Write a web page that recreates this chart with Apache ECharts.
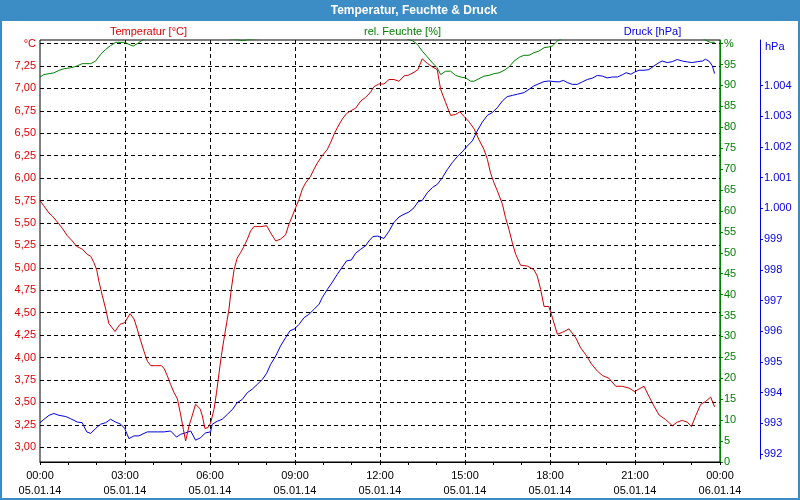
<!DOCTYPE html>
<html><head><meta charset="utf-8">
<script src="https://cdn.jsdelivr.net/npm/echarts@6/dist/echarts.min.js"></script>
<style>html,body{margin:0;padding:0;background:#fff}#c{width:800px;height:500px}</style>
</head><body><div id="c"></div>
<script>
// ---- data (hours since 05.01.14 00:00) ----
const tempTime = [0.00,0.14,0.32,0.43,0.67,0.79,0.96,1.14,1.29,1.49,1.67,1.79,1.90,2.00,2.08,2.20,2.32,2.43,2.55,2.65,2.73,2.82,2.99,3.18,3.32,3.43,3.55,3.67,3.79,3.91,4.08,4.28,4.38,4.49,4.61,4.73,4.85,4.96,5.06,5.14,5.26,5.37,5.49,5.65,5.73,5.82,5.93,6.02,6.14,6.23,6.32,6.40,6.49,6.59,6.67,6.75,6.85,6.96,7.08,7.20,7.32,7.43,7.55,7.79,8.00,8.14,8.32,8.49,8.67,8.79,8.91,9.02,9.14,9.26,9.38,9.55,9.67,9.79,9.96,10.14,10.26,10.38,10.49,10.67,10.82,10.96,11.14,11.32,11.49,11.67,11.79,11.96,12.14,12.32,12.49,12.67,12.85,13.02,13.20,13.34,13.49,13.67,13.85,14.02,14.14,14.32,14.49,14.67,14.82,14.96,15.14,15.32,15.49,15.67,15.79,15.90,16.02,16.14,16.32,16.43,16.55,16.67,16.79,16.96,17.20,17.43,17.55,17.67,17.79,17.96,18.08,18.26,18.43,18.67,18.91,19.08,19.29,19.46,19.67,19.85,20.08,20.32,20.55,20.79,20.99,21.14,21.32,21.49,21.67,21.85,22.08,22.32,22.49,22.67,22.85,22.99,23.14,23.32,23.49,23.67,23.81];
const tempValue = [5.75,5.69,5.61,5.58,5.49,5.44,5.36,5.30,5.24,5.21,5.15,5.13,5.06,4.98,4.85,4.69,4.54,4.38,4.33,4.29,4.33,4.37,4.39,4.49,4.43,4.32,4.19,4.07,3.96,3.91,3.91,3.91,3.88,3.80,3.70,3.61,3.54,3.37,3.20,3.07,3.24,3.35,3.48,3.43,3.35,3.21,3.22,3.27,3.42,3.61,3.83,4.02,4.20,4.39,4.54,4.76,4.98,5.11,5.17,5.24,5.32,5.41,5.46,5.46,5.47,5.39,5.30,5.32,5.37,5.49,5.58,5.67,5.76,5.88,5.95,6.02,6.10,6.17,6.25,6.32,6.40,6.49,6.56,6.66,6.72,6.75,6.78,6.86,6.90,6.96,7.02,7.05,7.05,7.10,7.10,7.08,7.14,7.15,7.18,7.21,7.33,7.28,7.24,7.21,6.99,6.84,6.70,6.71,6.74,6.69,6.63,6.55,6.43,6.32,6.21,6.06,5.95,5.86,5.71,5.56,5.43,5.28,5.15,5.03,5.02,4.98,4.91,4.76,4.57,4.57,4.45,4.26,4.28,4.32,4.22,4.11,4.02,3.93,3.85,3.80,3.77,3.68,3.68,3.66,3.62,3.65,3.68,3.57,3.46,3.36,3.31,3.24,3.28,3.30,3.28,3.23,3.35,3.48,3.51,3.56,3.45];

const humTime = [0.00,0.14,0.32,0.49,0.67,0.85,1.08,1.29,1.49,1.79,1.96,2.14,2.32,2.49,2.67,2.99,3.14,3.29,3.44,3.61,3.80,5.00,6.50,7.00,7.15,7.30,8.00,10.00,12.00,12.90,13.14,13.32,13.49,13.67,13.85,14.02,14.14,14.32,14.49,14.67,14.85,15.02,15.20,15.32,15.49,15.67,15.85,16.02,16.20,16.38,16.55,16.73,16.91,17.08,17.26,17.43,17.61,17.79,17.96,18.08,18.26,18.45,20.00,22.00,23.40,23.55,23.65,23.81];
const humValue = [92.0,92.6,92.8,93.0,93.6,94.0,94.2,94.6,95.2,95.2,95.8,97.4,98.6,99.5,100.3,100.3,99.8,99.4,100.0,100.8,101.4,101.6,101.3,100.9,100.7,100.9,101.4,101.7,101.6,101.2,100.7,99.8,98.2,96.8,95.4,94.2,92.6,93.4,93.4,92.4,92.0,91.8,91.0,91.0,91.6,92.2,92.4,92.8,93.0,93.6,94.4,95.8,96.7,97.2,97.2,97.8,98.2,99.0,99.2,99.4,100.6,101.3,101.7,101.6,101.2,100.6,100.3,100.3];

const pressTime = [0.00,0.14,0.32,0.49,0.67,0.91,1.08,1.32,1.49,1.65,1.79,1.96,2.14,2.32,2.49,2.67,2.85,2.99,3.14,3.32,3.49,3.67,3.79,4.14,4.38,4.61,4.82,4.96,5.14,5.32,5.49,5.67,5.84,6.02,6.08,6.26,6.43,6.61,6.79,6.96,7.14,7.32,7.49,7.67,7.85,8.00,8.14,8.32,8.49,8.67,8.82,8.99,9.14,9.32,9.49,9.67,9.85,9.96,10.14,10.32,10.49,10.67,10.82,10.99,11.14,11.32,11.49,11.61,11.75,11.91,12.14,12.32,12.49,12.67,12.85,13.02,13.20,13.34,13.49,13.67,13.85,14.02,14.20,14.38,14.55,14.73,14.90,15.08,15.26,15.43,15.61,15.79,15.96,16.14,16.32,16.49,16.67,16.85,17.08,17.26,17.43,17.61,17.79,17.96,18.14,18.32,18.47,18.61,18.79,18.96,19.14,19.32,19.49,19.67,19.85,20.02,20.20,20.38,20.55,20.69,20.85,20.99,21.14,21.32,21.49,21.67,21.85,21.96,22.14,22.32,22.49,22.67,22.85,23.02,23.20,23.38,23.49,23.63,23.73,23.81];
const pressValue = [993.02,993.13,993.26,993.32,993.26,993.22,993.15,993.04,993.02,992.72,992.67,992.83,992.97,993.02,993.13,993.04,992.97,992.83,992.50,992.59,992.59,992.67,992.72,992.72,992.72,992.75,992.55,992.64,992.69,992.75,992.45,992.53,992.69,992.72,992.97,993.07,993.13,993.29,993.45,993.67,993.78,994.00,994.11,994.27,994.43,994.63,994.92,995.19,995.52,995.79,996.01,996.08,996.22,996.44,996.55,996.71,996.88,997.09,997.36,997.60,997.85,998.09,998.29,998.32,998.54,998.67,998.78,998.94,999.08,999.10,999.02,999.26,999.54,999.72,999.81,999.88,1000.02,1000.21,1000.26,1000.51,1000.68,1000.78,1001.00,1001.27,1001.49,1001.69,1001.84,1002.03,1002.20,1002.52,1002.81,1003.03,1003.12,1003.28,1003.50,1003.64,1003.68,1003.72,1003.77,1003.88,1003.99,1004.06,1004.13,1004.15,1004.13,1004.12,1004.17,1004.10,1004.04,1004.04,1004.12,1004.20,1004.24,1004.33,1004.31,1004.25,1004.28,1004.28,1004.35,1004.42,1004.37,1004.44,1004.50,1004.50,1004.52,1004.64,1004.75,1004.80,1004.75,1004.78,1004.85,1004.80,1004.77,1004.75,1004.78,1004.80,1004.86,1004.78,1004.64,1004.39];

// ---- axis ticks / labels ----
const xTickHours = [0,3,6,9,12,15,18,21,24];
const xTimeLabels = ['00:00','03:00','06:00','09:00','12:00','15:00','18:00','21:00','00:00'];
const xDateLabels = ['05.01.14','05.01.14','05.01.14','05.01.14','05.01.14','05.01.14','05.01.14','05.01.14','06.01.14'];
const humTicks = [0,5,10,15,20,25,30,35,40,45,50,55,60,65,70,75,80,85,90,95,100];

const FONT = 'Liberation Sans';
const RED = '#dd0000', RED_LINE = '#cc0000';
const GREEN = '#008000';
const BLUE = '#0000dd';
const FRAME = '#3c8dc6';
const L = 40, R = 80;

const chart = echarts.init(document.getElementById('c'), null, {renderer: 'canvas'});
const zip = (a, b) => a.map((t, i) => [t, b[i]]);

chart.setOption({
  animation: false,
  backgroundColor: '#fff',
  textStyle: {fontFamily: FONT},
  grid: [
    {left: L, right: R, top: 40, bottom: 38, show: true, borderColor: '#000', borderWidth: 1, backgroundColor: 'transparent'},
    {left: L, right: R, top: 43.6, bottom: 52.7},
    {left: L, right: R, top: 85.6, bottom: 46},
    {left: L, right: R, top: 40, bottom: 41}
  ],
  xAxis: [
    {gridIndex: 0, type: 'value', min: 0, max: 24, interval: 3,
      axisLine: {show: true, onZero: false, lineStyle: {color: '#000', width: 1}},
      axisTick: {show: true, length: 3, lineStyle: {color: '#000'}},
      minorTick: {show: true, splitNumber: 3, length: 3, lineStyle: {color: '#000'}},
      splitLine: {show: true, showMinLine: false, showMaxLine: false, lineStyle: {color: '#000', type: [4, 3], width: 1}},
      axisLabel: {color: '#000', fontFamily: FONT, fontSize: 11, lineHeight: 15, margin: 6,
        formatter: v => { const i = xTickHours.indexOf(v); return i < 0 ? '' : xTimeLabels[i] + '\n' + xDateLabels[i]; }}
    },
    {gridIndex: 1, type: 'value', min: 0, max: 24, show: false, axisLine: {onZero: false}},
    {gridIndex: 2, type: 'value', min: 0, max: 24, show: false, axisLine: {onZero: false}},
    {gridIndex: 3, type: 'value', min: 0, max: 24, show: false, axisLine: {onZero: false}}
  ],
  yAxis: [
    {gridIndex: 0, type: 'value', position: 'right', min: 0, max: 100.85, interval: 5,
      axisLine: {show: true, onZero: false, lineStyle: {color: GREEN, width: 1}},
      axisTick: {show: true, length: 3, customValues: humTicks, lineStyle: {color: GREEN}},
      axisLabel: {color: GREEN, fontFamily: FONT, fontSize: 11, margin: 4, customValues: humTicks,
        formatter: v => v === 100 ? '%' : (v > 100 ? '' : String(v))},
      splitLine: {show: false}
    },
    {gridIndex: 1, type: 'value', position: 'left', min: 3, max: 7.5, interval: 0.25,
      axisLine: {show: false, onZero: false}, axisTick: {show: false},
      axisLabel: {color: RED, fontFamily: FONT, fontSize: 11, margin: 4,
        formatter: v => v === 7.5 ? '°C' : v.toFixed(2).replace('.', ',')},
      splitLine: {show: true, lineStyle: {color: '#000', type: [4, 3], width: 1}}
    },
    {gridIndex: 2, type: 'value', position: 'right', offset: 40, min: 992, max: 1004, interval: 1,
      axisLine: {show: false, onZero: false},
      axisTick: {show: true, length: 3, lineStyle: {color: BLUE}},
      axisLabel: {color: BLUE, fontFamily: FONT, fontSize: 11, margin: 4,
        formatter: v => v >= 1000 ? '1.' + String(v - 1000).padStart(3, '0') : String(v)},
      splitLine: {show: false}
    },
    {gridIndex: 3, type: 'value', position: 'right', offset: 40, min: 991.837, max: 1005.485,
      axisLine: {show: true, onZero: false, lineStyle: {color: BLUE, width: 1}},
      axisTick: {show: false}, axisLabel: {show: false}, splitLine: {show: false}
    }
  ],
  series: [
    {name: 'rel. Feuchte [%]', type: 'line', xAxisIndex: 0, yAxisIndex: 0, data: zip(humTime, humValue),
      showSymbol: false, symbol: 'none', lineStyle: {color: GREEN, width: 1}, itemStyle: {color: GREEN}, z: 3},
    {name: 'Druck [hPa]', type: 'line', xAxisIndex: 3, yAxisIndex: 3, data: zip(pressTime, pressValue),
      showSymbol: false, symbol: 'none', lineStyle: {color: BLUE, width: 1}, itemStyle: {color: BLUE}, z: 4},
    {name: 'Temperatur [°C]', type: 'line', xAxisIndex: 1, yAxisIndex: 1, data: zip(tempTime, tempValue),
      showSymbol: false, symbol: 'none', lineStyle: {color: RED_LINE, width: 1}, itemStyle: {color: RED_LINE}, z: 5}
  ],
  graphic: [
    {type: 'rect', shape: {x: 0, y: 0, width: 800, height: 21}, style: {fill: FRAME}, silent: true},
    {type: 'rect', shape: {x: 1, y: 1, width: 798, height: 498}, style: {fill: null, stroke: FRAME, lineWidth: 2}, silent: true},
    {type: 'text', x: 414, y: 10.5, style: {text: 'Temperatur, Feuchte & Druck', fill: '#fff', font: 'bold 12px "Liberation Sans"', align: 'center', verticalAlign: 'middle'}},
    {type: 'text', x: 148.5, y: 31.5, style: {text: 'Temperatur [°C]', fill: RED, font: '11px "Liberation Sans"', align: 'center', verticalAlign: 'middle'}},
    {type: 'text', x: 402.5, y: 31.5, style: {text: 'rel. Feuchte [%]', fill: GREEN, font: '11px "Liberation Sans"', align: 'center', verticalAlign: 'middle'}},
    {type: 'text', x: 652.5, y: 31.5, style: {text: 'Druck [hPa]', fill: BLUE, font: '11px "Liberation Sans"', align: 'center', verticalAlign: 'middle'}},
    {type: 'text', x: 765, y: 46.5, style: {text: 'hPa', fill: BLUE, font: '11px "Liberation Sans"', align: 'left', verticalAlign: 'middle'}}
  ]
});
</script></body></html>
